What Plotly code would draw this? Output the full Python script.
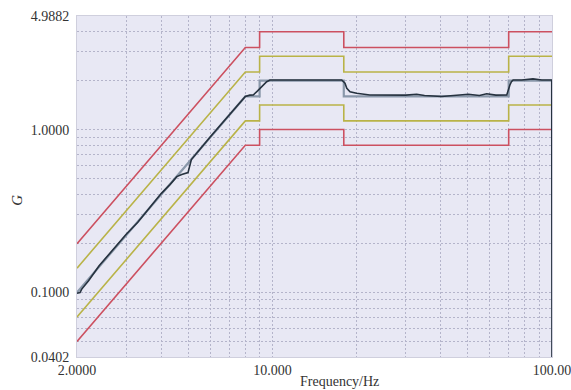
import plotly.graph_objects as go

# Sine-sweep reference profile (breakpoints, G vs Hz)
profile_freq = [2.0, 8.0, 9.0, 9.0, 18.0, 18.0, 70.0, 70.0, 100.0]
profile_g = [0.1, 1.6, 1.6, 2.0, 2.0, 1.6, 1.6, 2.0, 2.0]

# Tolerance bands around the profile, in dB
alarm_db = 3.0
abort_db = 6.0

# Measured control response
meas_freq = [2.0, 2.05, 2.08, 2.2, 2.4, 2.7, 3.0, 3.3, 3.6, 4.0, 4.3, 4.55,
             4.74, 4.99, 5.13, 5.5, 6.0, 6.5, 7.0, 7.5, 8.0, 8.3, 8.54, 8.85,
             9.16, 9.54, 9.8, 11.0, 13.0, 15.0, 17.0, 17.7, 18.18, 18.45,
             18.95, 20.0, 22.3, 26.0, 30.0, 32.8, 35.0, 40.3, 45.0, 50.2,
             55.0, 58.4, 63.0, 68.9, 70.7, 71.6, 72.6, 78.0, 85.5, 92.0,
             99.8, 100.0]
meas_g = [0.099, 0.100, 0.105, 0.118, 0.146, 0.184, 0.228, 0.270, 0.326,
          0.405, 0.460, 0.515, 0.530, 0.545, 0.655, 0.760, 0.905, 1.06,
          1.23, 1.41, 1.60, 1.63, 1.633, 1.73, 1.836, 1.97, 2.02, 2.02,
          2.03, 2.02, 2.02, 2.02, 1.93, 1.795, 1.71, 1.673, 1.633, 1.625,
          1.63, 1.65, 1.62, 1.60, 1.63, 1.65, 1.62, 1.66, 1.63, 1.633,
          1.88, 1.97, 2.02, 2.02, 2.05, 2.02, 2.02, 0.02]

x_ticks = [2.0, 10.0, 100.0]
x_tick_text = ["2.0000", "10.000", "100.00"]
y_ticks = [0.0402, 0.1, 1.0, 4.9882]
y_tick_text = ["0.0402", "0.1000", "1.0000", "4.9882"]

x_grid = [3, 4, 5, 6, 7, 8, 9, 20, 30, 40, 50, 60, 70, 80, 90]
y_grid = [0.05, 0.06, 0.07, 0.08, 0.09, 0.2, 0.3, 0.4, 0.5, 0.6, 0.7,
          0.8, 0.9, 2, 3, 4]

RED = "#cc5060"
OLIVE = "#b9b347"
REF_GRAY = "#8a98aa"
DARK = "#26323f"
SERIF = "Liberation Serif"


def scaled(values, db):
    k = 10 ** (db / 20.0)
    return [v * k for v in values]


fig = go.Figure()

for db, color in [(abort_db, RED), (-abort_db, RED),
                  (alarm_db, OLIVE), (-alarm_db, OLIVE)]:
    fig.add_trace(go.Scatter(x=profile_freq, y=scaled(profile_g, db),
                             mode="lines", line=dict(color=color, width=1.6),
                             showlegend=False, hoverinfo="skip"))

fig.add_trace(go.Scatter(x=profile_freq, y=profile_g, mode="lines",
                         line=dict(color=REF_GRAY, width=2.2),
                         showlegend=False))
fig.add_trace(go.Scatter(x=meas_freq, y=meas_g, mode="lines",
                         line=dict(color=DARK, width=1.6),
                         showlegend=False))

tick_font = dict(family=SERIF, size=14, color="#333333")
grid_col = "#b4b4ca"
grid_dash = "2px,2px"

fig.update_xaxes(type="log", range=[0.30103, 2.00002], automargin=False,
                 tickmode="array", tickvals=x_ticks, ticktext=x_tick_text,
                 tickfont=tick_font, showgrid=True, gridcolor=grid_col,
                 griddash=grid_dash, gridwidth=1, zeroline=False,
                 showline=True, linecolor="#cfcfdd", linewidth=1, mirror=True,
                 ticks="", ticklabelstandoff=0, ticklabeloverflow="allow",
                 minor=dict(tickmode="array", tickvals=x_grid, showgrid=True,
                            gridcolor=grid_col, griddash=grid_dash, ticks=""))
fig.update_yaxes(type="log", range=[-1.395774, 0.697943], automargin=False,
                 tickmode="array", tickvals=y_ticks, ticktext=y_tick_text,
                 tickfont=tick_font, showgrid=True, gridcolor=grid_col,
                 griddash=grid_dash, gridwidth=1, zeroline=False,
                 showline=True, linecolor="#cfcfdd", linewidth=1, mirror=True,
                 ticks="", ticklabelstandoff=4, ticklabeloverflow="allow",
                 minor=dict(tickmode="array", tickvals=y_grid, showgrid=True,
                            gridcolor=grid_col, griddash=grid_dash, ticks=""))

fig.add_annotation(text="Frequency/Hz", xref="paper", yref="paper",
                   x=0.553, y=-0.044, yanchor="top", showarrow=False,
                   font=dict(family=SERIF, size=14, color="#333333"))
fig.add_annotation(text="<i>G</i>", xref="paper", yref="paper",
                   x=-0.148, y=0.46, textangle=-90, showarrow=False,
                   font=dict(family=SERIF, size=15, color="#333333"))

fig.update_layout(width=571, height=390,
                  margin=dict(l=77, r=19, t=16, b=33),
                  plot_bgcolor="#e8e8f4", paper_bgcolor="white")

fig.write_html("out.html")
